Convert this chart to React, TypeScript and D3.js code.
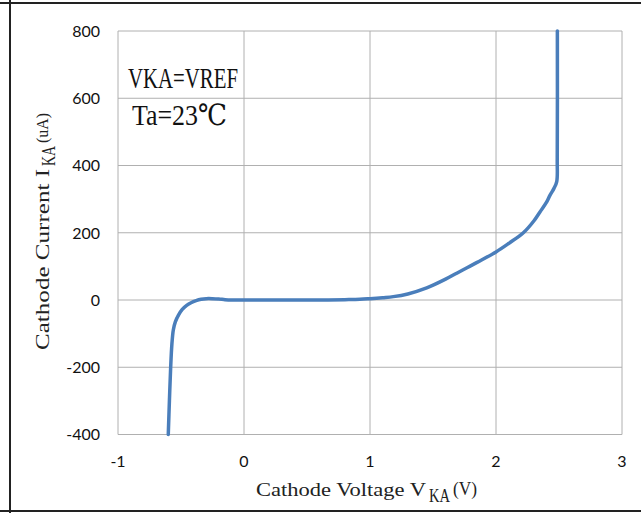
import * as d3 from 'd3';

// Reference voltage VKA (V) vs cathode current IKA (uA)
const vka = [-0.601, -0.592, -0.582, -0.572, -0.561, -0.545, -0.52, -0.49, -0.455, -0.42, -0.38, -0.34, -0.3, -0.25, -0.2, -0.15, -0.1, 0, 0.2, 0.4, 0.6, 0.8, 0.92, 1.0, 1.1, 1.185, 1.3, 1.45, 1.6, 1.714, 1.85, 2.0, 2.1, 2.217, 2.3, 2.349, 2.4, 2.429, 2.46, 2.482, 2.486, 2.487];
const ika = [-400, -300, -200, -130, -89, -65, -45, -28, -16, -8, -2, 2, 4, 4, 3, 1, 0, 0, 0, 0, 0, 1, 2, 4, 7, 10, 18, 36, 62, 85, 112, 143, 168, 200, 235, 262, 290, 312, 332, 352, 420, 800];

const xTicks = [-1, 0, 1, 2, 3];
const yTicks = [-400, -200, 0, 200, 400, 600, 800];

const W = 641;
const H = 513;
const plot = { left: 118, right: 622, top: 31, bottom: 434.5 };

const GRID = '#b0b0b0';
const LINE = '#4a7ebb';
const SERIF = '"Liberation Serif", "DejaVu Serif", serif';
const SANS = 'Lato, "Open Sans", sans-serif';

export default function App() {
  const x = d3.scaleLinear().domain([-1, 3]).range([plot.left, plot.right]);
  const y = d3.scaleLinear().domain([-400, 800]).range([plot.bottom, plot.top]);

  const pts = vka.map((v, i) => [v, ika[i]] as [number, number]);
  const line = d3.line<[number, number]>()
    .x(d => x(d[0]))
    .y(d => y(d[1]))
    .curve(d3.curveCatmullRom.alpha(0.5));

  return (
    <svg width={W} height={H} style={{ position: 'absolute', left: 0, top: 0, background: '#fff' }}>
      {/* outer frame */}
      <line x1={0} y1={3} x2={W} y2={3} stroke="#222" strokeWidth={2} />
      <line x1={0} y1={511} x2={W} y2={511} stroke="#222" strokeWidth={2} />
      <line x1={10} y1={0} x2={10} y2={H} stroke="#222" strokeWidth={2} />

      {/* grid */}
      {xTicks.map(t => (
        <line key={'gx' + t} x1={x(t)} x2={x(t)} y1={plot.top} y2={plot.bottom} stroke={GRID} strokeWidth={1} />
      ))}
      {yTicks.map(t => (
        <line key={'gy' + t} x1={plot.left} x2={plot.right} y1={y(t)} y2={y(t)} stroke={GRID} strokeWidth={1} />
      ))}

      {/* tick labels */}
      {yTicks.map(t => (
        <text key={'ty' + t} x={100} y={y(t)} dy="0.36em" textAnchor="end"
          fontFamily={SANS} fontSize={16} fill="#111">{t}</text>
      ))}
      {xTicks.map(t => (
        <text key={'tx' + t} x={x(t)} y={467} textAnchor="middle"
          fontFamily={SANS} fontSize={16} fill="#111">{t}</text>
      ))}

      {/* annotation */}
      <text x={128} y={88} fontFamily={SERIF} fontSize={29} fill="#111"
        textLength={110} lengthAdjust="spacingAndGlyphs">VKA=VREF</text>
      <text x={132} y={125} fontFamily={SERIF} fontSize={29} fill="#111"
        textLength={95} lengthAdjust="spacingAndGlyphs">Ta=23℃</text>

      {/* curve */}
      <path d={line(pts) ?? ''} fill="none" stroke={LINE} strokeWidth={3.5} strokeLinejoin="round" strokeLinecap="round" />

      {/* x axis title */}
      <g fontFamily={SERIF} fontSize={19} fill="#222">
        <text x={256} y={496} textLength={170} lengthAdjust="spacingAndGlyphs">Cathode Voltage V</text>
        <text x={429} y={502} textLength={21} lengthAdjust="spacingAndGlyphs">KA</text>
        <text x={453} y={495} textLength={24} lengthAdjust="spacingAndGlyphs">(V)</text>
      </g>

      {/* y axis title */}
      <g fontFamily={SERIF} fontSize={19} fill="#222" transform="translate(49,350) rotate(-90)">
        <text x={0} y={0} textLength={181} lengthAdjust="spacingAndGlyphs">Cathode Current I</text>
        <text x={184} y={6} textLength={20} lengthAdjust="spacingAndGlyphs">KA</text>
        <text x={207} y={-1} fontSize={17} textLength={30} lengthAdjust="spacingAndGlyphs">(uA)</text>
      </g>
    </svg>
  );
}
